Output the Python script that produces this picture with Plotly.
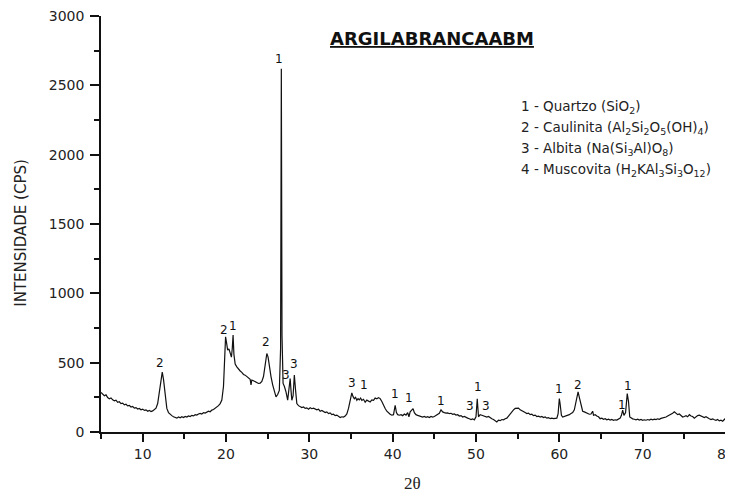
import plotly.graph_objects as go

# ---- data ----
two_theta = [
    5.0, 5.2, 5.4, 5.6, 5.8, 6.0, 6.2, 6.4, 6.6, 6.8, 7.0, 7.2, 7.4, 7.6, 7.8, 8.0, 8.2, 8.4, 8.6, 8.8,
    9.0, 9.2, 9.4, 9.6, 9.8, 10.0, 10.2, 10.4, 10.6, 10.8, 11.0, 11.2, 11.4, 11.6, 11.8, 12.0, 12.2, 12.35, 12.5, 12.7,
    12.9, 13.1, 13.3, 13.5, 13.7, 13.9, 14.1, 14.3, 14.5, 14.7, 14.9, 15.1, 15.3, 15.5, 15.7, 15.9, 16.1, 16.3, 16.5, 16.7,
    16.9, 17.1, 17.3, 17.5, 17.7, 17.9, 18.1, 18.3, 18.5, 18.7, 18.9, 19.1, 19.3, 19.5, 19.7, 19.85, 19.95, 20.05, 20.2, 20.35,
    20.5, 20.65, 20.75, 20.85, 20.95, 21.1, 21.3, 21.5, 21.7, 21.9, 22.1, 22.3, 22.5, 22.7, 22.9, 23.0, 23.1, 23.3, 23.5, 23.7,
    23.9, 24.1, 24.3, 24.5, 24.7, 24.9, 25.05, 25.2, 25.4, 25.6, 25.8, 26.0, 26.2, 26.4, 26.55, 26.64, 26.72, 26.85, 27.0, 27.2,
    27.4, 27.55, 27.7, 27.8, 27.9, 28.05, 28.2, 28.35, 28.5, 28.7, 28.9, 29.1, 29.3, 29.5, 29.7, 29.9, 30.1, 30.3, 30.5, 30.7,
    30.9, 31.1, 31.3, 31.5, 31.7, 31.9, 32.1, 32.3, 32.5, 32.7, 32.9, 33.1, 33.3, 33.5, 33.7, 33.9, 34.1, 34.3, 34.5, 34.7,
    34.9, 35.1, 35.25, 35.4, 35.55, 35.7, 35.85, 36.0, 36.15, 36.3, 36.5, 36.7, 36.9, 37.1, 37.3, 37.5, 37.7, 37.9, 38.1, 38.3,
    38.5, 38.7, 38.9, 39.1, 39.3, 39.5, 39.7, 39.9, 40.1, 40.3, 40.45, 40.6, 40.8, 41.0, 41.2, 41.4, 41.6, 41.8, 41.95, 42.1,
    42.45, 42.6, 42.8, 43.0, 43.2, 43.4, 43.6, 43.8, 44.0, 44.2, 44.4, 44.6, 44.8, 45.0, 45.2, 45.4, 45.6, 45.8, 46.0, 46.2,
    46.4, 46.6, 46.8, 47.0, 47.2, 47.4, 47.6, 47.8, 48.0, 48.2, 48.4, 48.6, 48.8, 49.0, 49.2, 49.4, 49.6, 49.8, 50.0, 50.15,
    50.3, 50.5, 50.7, 50.9, 51.1, 51.3, 51.5, 51.7, 51.9, 52.1, 52.3, 52.5, 52.7, 52.9, 53.1, 53.3, 53.5, 53.7, 53.9, 54.1,
    54.3, 54.5, 54.7, 54.9, 55.1, 55.3, 55.5, 55.7, 55.9, 56.1, 56.3, 56.5, 56.7, 56.9, 57.1, 57.3, 57.5, 57.7, 57.9, 58.1,
    58.3, 58.5, 58.7, 58.9, 59.1, 59.3, 59.5, 59.7, 59.85, 60.0, 60.1, 60.25, 60.4, 60.6, 60.8, 61.0, 61.2, 61.4, 61.6, 61.8,
    62.0, 62.25, 62.4, 62.6, 62.8, 63.0, 63.2, 63.4, 63.6, 63.8, 64.0, 64.1, 64.3, 64.5, 64.7, 64.9, 65.1, 65.3, 65.5, 65.7,
    65.9, 66.1, 66.3, 66.5, 66.7, 66.9, 67.1, 67.3, 67.45, 67.6, 67.75, 67.95, 68.15, 68.3, 68.45, 68.6, 68.8, 69.0, 69.2, 69.4,
    69.6, 69.8, 70.0, 70.2, 70.4, 70.6, 70.8, 71.0, 71.2, 71.4, 71.6, 71.8, 72.0, 72.2, 72.4, 72.6, 72.8, 73.0, 73.2, 73.4,
    73.6, 73.8, 74.0, 74.2, 74.4, 74.6, 74.8, 75.0, 75.2, 75.4, 75.6, 75.8, 76.0, 76.2, 76.4, 76.6, 76.8, 77.0, 77.2, 77.4,
    77.6, 77.8, 78.0, 78.2, 78.4, 78.6, 78.8, 79.0, 79.2, 79.4, 79.6, 79.8, 80.0,
]
intensity = [
    285, 270, 262, 268, 248, 240, 246, 232, 225, 230, 214, 218, 205, 208, 196, 200, 188, 192, 180, 184,
    172, 176, 166, 170, 160, 165, 156, 160, 150, 156, 148, 152, 160, 172, 205, 290, 400, 432, 380, 250,
    170, 140, 125, 118, 110, 105, 100, 108, 102, 110, 104, 112, 108, 116, 112, 120, 116, 125, 122, 130,
    134, 130, 140, 136, 145, 150, 146, 158, 162, 170, 178, 190, 205, 230, 330, 560, 686, 650, 590, 600,
    560, 540, 600, 700, 560, 490, 470, 450, 440, 430, 415, 410, 398, 390, 380, 340, 375, 370, 362, 355,
    350, 352, 365, 400, 480, 566, 540, 470, 400, 340, 290, 253, 270, 300, 600, 2620, 700, 350, 330, 290,
    230, 300, 386, 300, 229, 260, 410, 300, 205, 190, 180, 176, 180, 170, 174, 165, 175, 168, 172, 166,
    160, 165, 150, 155, 145, 140, 145, 133, 138, 125, 128, 118, 122, 112, 104, 110, 108, 115, 130, 170,
    240, 282, 255, 240, 250, 229, 240, 232, 245, 228, 236, 215, 230, 222, 217, 232, 228, 245, 240, 248,
    241, 220, 190, 169, 150, 135, 128, 121, 125, 193, 140, 125, 121, 125, 118, 130, 122, 140, 110, 145,
    169, 140, 125, 120, 115, 112, 108, 112, 106, 110, 104, 112, 108, 112, 118, 125, 135, 160, 145, 140,
    136, 138, 132, 135, 128, 130, 122, 125, 115, 118, 108, 112, 104, 100, 96, 90, 95, 88, 110, 240,
    110, 125, 121, 115, 110, 108, 112, 100, 95, 90, 80, 72, 85, 82, 90, 88, 96, 100, 115, 130,
    150, 160, 170, 169, 172, 160, 155, 148, 140, 133, 136, 125, 128, 118, 122, 112, 115, 108, 112, 104,
    108, 100, 104, 96, 100, 96, 98, 100, 130, 241, 200, 120, 108, 112, 115, 120, 125, 133, 140, 160,
    220, 289, 250, 190, 150, 145, 138, 132, 128, 130, 150, 121, 125, 115, 110, 96, 100, 92, 96, 88,
    92, 86, 90, 84, 88, 86, 92, 100, 120, 157, 120, 140, 277, 220, 108, 100, 95, 92, 88, 92,
    86, 90, 84, 88, 85, 90, 86, 92, 88, 92, 89, 95, 92, 98, 100, 105, 108, 115, 120, 128,
    135, 145, 138, 125, 130, 115, 108, 112, 118, 110, 125, 115, 112, 100, 110, 118, 121, 115, 110, 104,
    110, 100, 96, 90, 95, 88, 84, 90, 80, 85, 78, 90, 105,
]

# peak identification labels
peak_labels = ["2", "2", "1", "2", "1", "3", "3", "3", "1", "1", "1", "1", "3", "1", "3", "1", "2", "1", "1"]
peak_x = [12.1, 19.8, 20.8, 24.8, 26.4, 27.2, 28.1, 35.1, 36.5, 40.3, 42.0, 45.8, 49.3, 50.2, 51.2, 59.9, 62.2, 67.5, 68.2]
peak_y = [500, 735, 764, 650, 2693, 410, 487, 350, 337, 272, 248, 222, 188, 325, 188, 313, 342, 193, 330]

legend_lines = [
    "1 - Quartzo (SiO<sub>2</sub>)",
    "2 - Caulinita (Al<sub>2</sub>Si<sub>2</sub>O<sub>5</sub>(OH)<sub>4</sub>)",
    "3 - Albita (Na(Si<sub>3</sub>Al)O<sub>8</sub>)",
    "4 - Muscovita (H<sub>2</sub>KAl<sub>3</sub>Si<sub>3</sub>O<sub>12</sub>)",
]

title_text = "ARGILABRANCAABM"
x_title = "2θ"
y_title = "INTENSIDADE (CPS)"

FONT = "DejaVu Sans"

fig = go.Figure()
fig.add_trace(go.Scatter(
    x=two_theta, y=intensity, mode="lines",
    line=dict(color="#111111", width=1.2),
    showlegend=False, hoverinfo="skip",
))

annotations = []
for t, xv, yv in zip(peak_labels, peak_x, peak_y):
    annotations.append(dict(x=xv, y=yv, xref="x", yref="y", text=t, showarrow=False,
                            xanchor="center", yanchor="middle",
                            font=dict(family=FONT, size=12, color="#111111")))

annotations.append(dict(x=0.5296, y=0.947, xref="paper", yref="paper",
                        text="<b><u>" + title_text + "</u></b>", showarrow=False,
                        xanchor="center", yanchor="middle",
                        font=dict(family=FONT, size=18, color="#111111")))

leg_y = [0.781, 0.731, 0.680, 0.630]
for t, yv in zip(legend_lines, leg_y):
    annotations.append(dict(x=0.669, y=yv, xref="paper", yref="paper", text=t,
                            showarrow=False, xanchor="left", yanchor="middle",
                            font=dict(family=FONT, size=13.5, color="#222222")))

annotations.append(dict(x=-0.128, y=0.479, xref="paper", yref="paper", text=y_title,
                        showarrow=False, textangle=-90, xanchor="center", yanchor="middle",
                        font=dict(family=FONT, size=15, color="#222222")))
annotations.append(dict(x=0.498, y=-0.1226, xref="paper", yref="paper", text=x_title,
                        showarrow=False, xanchor="center", yanchor="middle",
                        font=dict(family="Liberation Serif", size=17, color="#222222")))

# the page body adds an 8px offset, so the figure is sized to fill the rest of the window
fig.update_layout(
    width=725, height=484,
    margin=dict(l=93, r=7, t=8, b=60, autoexpand=False),
    paper_bgcolor="white", plot_bgcolor="white",
    annotations=annotations,
    showlegend=False,
)

fig.update_xaxes(
    range=[5, 80], tick0=0, dtick=10, showgrid=False, zeroline=False,
    showline=True, linecolor="#111111", linewidth=1.5,
    ticks="outside", ticklen=8, tickwidth=1.5, tickcolor="#111111",
    minor=dict(dtick=5, tick0=0, ticks="outside", ticklen=5, tickwidth=1.5, tickcolor="#111111"),
    tickfont=dict(family=FONT, size=14, color="#222222"),
    ticklabeloverflow="allow", automargin=False,
)
fig.update_yaxes(
    range=[0, 3000], tick0=0, dtick=500, showgrid=False, zeroline=False,
    showline=True, linecolor="#111111", linewidth=1.5,
    ticks="outside", ticklen=9, tickwidth=1.5, tickcolor="#111111",
    minor=dict(dtick=250, tick0=0, ticks="outside", ticklen=5, tickwidth=1.5, tickcolor="#111111"),
    tickfont=dict(family=FONT, size=14, color="#222222"),
    ticklabelstandoff=3,
    ticklabeloverflow="allow", automargin=False,
)

fig.write_html("out.html")
